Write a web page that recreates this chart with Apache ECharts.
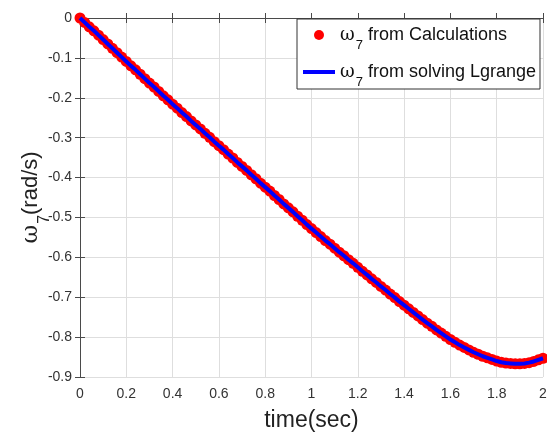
<!DOCTYPE html>
<html>
<head>
<meta charset="utf-8">
<script src="https://cdn.jsdelivr.net/npm/echarts@6/dist/echarts.min.js"></script>
<style>
  html, body { margin: 0; padding: 0; background: #fff; }
  #chart { width: 547px; height: 433px; }
</style>
</head>
<body>
<div id="chart"></div>
<script>
// time samples (sec)
var time = [
  0.00, 0.02, 0.04, 0.06, 0.08, 0.10, 0.12, 0.14, 0.16, 0.18,
  0.20, 0.22, 0.24, 0.26, 0.28, 0.30, 0.32, 0.34, 0.36, 0.38,
  0.40, 0.42, 0.44, 0.46, 0.48, 0.50, 0.52, 0.54, 0.56, 0.58,
  0.60, 0.62, 0.64, 0.66, 0.68, 0.70, 0.72, 0.74, 0.76, 0.78,
  0.80, 0.82, 0.84, 0.86, 0.88, 0.90, 0.92, 0.94, 0.96, 0.98,
  1.00, 1.02, 1.04, 1.06, 1.08, 1.10, 1.12, 1.14, 1.16, 1.18,
  1.20, 1.22, 1.24, 1.26, 1.28, 1.30, 1.32, 1.34, 1.36, 1.38,
  1.40, 1.42, 1.44, 1.46, 1.48, 1.50, 1.52, 1.54, 1.56, 1.58,
  1.60, 1.62, 1.64, 1.66, 1.68, 1.70, 1.72, 1.74, 1.76, 1.78,
  1.80, 1.82, 1.84, 1.86, 1.88, 1.90, 1.92, 1.94, 1.96, 1.98,
  2.00
];
// omega_7 from calculations (rad/s)
var omegaCalc = [
  0, -0.011, -0.022, -0.032, -0.043, -0.054, -0.065, -0.076, -0.087, -0.098,
  -0.109, -0.120, -0.130, -0.141, -0.152, -0.163, -0.173, -0.184, -0.195, -0.205,
  -0.216, -0.226, -0.237, -0.247, -0.258, -0.268, -0.278, -0.289, -0.299, -0.310,
  -0.320, -0.330, -0.341, -0.351, -0.362, -0.372, -0.382, -0.393, -0.403, -0.414,
  -0.424, -0.434, -0.445, -0.455, -0.466, -0.476, -0.486, -0.497, -0.507, -0.518,
  -0.528, -0.538, -0.548, -0.558, -0.567, -0.577, -0.587, -0.596, -0.606, -0.615,
  -0.625, -0.635, -0.644, -0.654, -0.663, -0.673, -0.682, -0.692, -0.701, -0.711,
  -0.720, -0.729, -0.738, -0.747, -0.756, -0.765, -0.773, -0.782, -0.790, -0.798,
  -0.806, -0.813, -0.820, -0.826, -0.832, -0.838, -0.843, -0.848, -0.852, -0.856,
  -0.860, -0.863, -0.865, -0.866, -0.867, -0.867, -0.866, -0.864, -0.861, -0.857,
  -0.853
];
// omega_7 from solving Lagrange (same curve as plotted)
var omegaLagrange = omegaCalc;

var xTicks = { min: 0, max: 2, step: 0.2 };
var yTicks = { min: -0.9, max: 0, step: 0.1 };

var calcData = time.map(function (t, i) { return [t, omegaCalc[i]]; });
var lagrData = time.map(function (t, i) { return [t, omegaLagrange[i]]; });

var axisColor = '#4a4a4a';
var labelColor = '#333';
var fontFam = '"Liberation Sans", Arial, sans-serif';

var myChart = echarts.init(document.getElementById('chart'));
myChart.setOption({
  animation: false,
  backgroundColor: '#fff',
  textStyle: { fontFamily: fontFam },
  grid: { left: 80, right: 4, top: 18, bottom: 56, outerBoundsMode: 'none', containLabel: false },
  legend: {
    left: 297,
    top: 19,
    orient: 'vertical',
    backgroundColor: '#fff',
    borderColor: '#333',
    borderWidth: 1,
    borderRadius: 0,
    padding: [7, 4, 0, 4],
    itemWidth: 32,
    itemHeight: 10,
    itemGap: 11,
    data: [
      { name: 'calc', icon: 'circle' },
      { name: 'lagr', itemStyle: { opacity: 0 }, lineStyle: { width: 4, color: '#0000ff' } }
    ],
    formatter: function (name) {
      if (name === 'calc') return '{w|ω}{s|7}{t| from Calculations}';
      return '{w|ω}{s|7}{t| from solving Lgrange}';
    },
    textStyle: {
      fontFamily: fontFam,
      color: '#111',
      rich: {
        w: { fontSize: 18, fontFamily: 'DejaVu Serif', verticalAlign: 'middle', lineHeight: 22 },
        s: { fontSize: 13, verticalAlign: 'bottom', lineHeight: 22, padding: [0, 0, -6, 1] },
        t: { fontSize: 18, verticalAlign: 'middle', lineHeight: 22 }
      }
    }
  },
  xAxis: [{
    type: 'value',
    min: xTicks.min,
    max: xTicks.max,
    interval: xTicks.step,
    name: 'time(sec)',
    nameLocation: 'middle',
    nameGap: 32,
    nameTextStyle: { fontSize: 23, color: '#222', fontFamily: fontFam },
    axisLine: { show: true, lineStyle: { color: axisColor, width: 1 } },
    axisTick: { show: true, inside: true, length: 5, lineStyle: { color: axisColor } },
    axisLabel: { color: labelColor, fontSize: 14, margin: 10 },
    splitLine: { show: true, lineStyle: { color: '#dedede', width: 1 } }
  }, {
    type: 'value',
    position: 'top',
    min: xTicks.min,
    max: xTicks.max,
    interval: xTicks.step,
    axisLine: { show: true, lineStyle: { color: axisColor, width: 1 } },
    axisTick: { show: true, inside: true, length: 5, lineStyle: { color: axisColor } },
    axisLabel: { show: false },
    splitLine: { show: false }
  }],
  yAxis: [{
    type: 'value',
    min: yTicks.min,
    max: yTicks.max,
    interval: yTicks.step,
    name: '{w|ω}{s|7}{t|(rad/s)}',
    nameLocation: 'middle',
    nameRotate: 90,
    nameGap: 34,
    nameMoveOverlap: false,
    nameTextStyle: {
      color: '#222',
      rich: {
        w: { fontSize: 23, fontFamily: 'DejaVu Serif', verticalAlign: 'middle', lineHeight: 30, color: '#222' },
        s: { fontSize: 16, verticalAlign: 'bottom', lineHeight: 30, padding: [0, 0, -7, 1], color: '#222' },
        t: { fontSize: 22, verticalAlign: 'middle', lineHeight: 30, color: '#222', fontFamily: fontFam }
      }
    },
    axisLine: { show: true, lineStyle: { color: axisColor, width: 1 } },
    axisTick: { show: true, inside: true, length: 5, lineStyle: { color: axisColor } },
    axisLabel: { color: labelColor, fontSize: 14, margin: 8 },
    splitLine: { show: true, lineStyle: { color: '#dedede', width: 1 } }
  }, {
    type: 'value',
    position: 'right',
    min: yTicks.min,
    max: yTicks.max,
    interval: yTicks.step,
    axisLine: { show: true, lineStyle: { color: axisColor, width: 1 } },
    axisTick: { show: true, inside: true, length: 5, lineStyle: { color: axisColor } },
    axisLabel: { show: false },
    splitLine: { show: false }
  }],
  series: [{
    name: 'calc',
    type: 'scatter',
    data: calcData,
    symbol: 'circle',
    symbolSize: 11,
    itemStyle: { color: '#ff0000', opacity: 1 },
    z: 2
  }, {
    name: 'lagr',
    type: 'line',
    data: lagrData,
    symbol: 'none',
    lineStyle: { color: '#0000ff', width: 4 },
    itemStyle: { color: '#0000ff' },
    z: 3
  }]
});
</script>
</body>
</html>
